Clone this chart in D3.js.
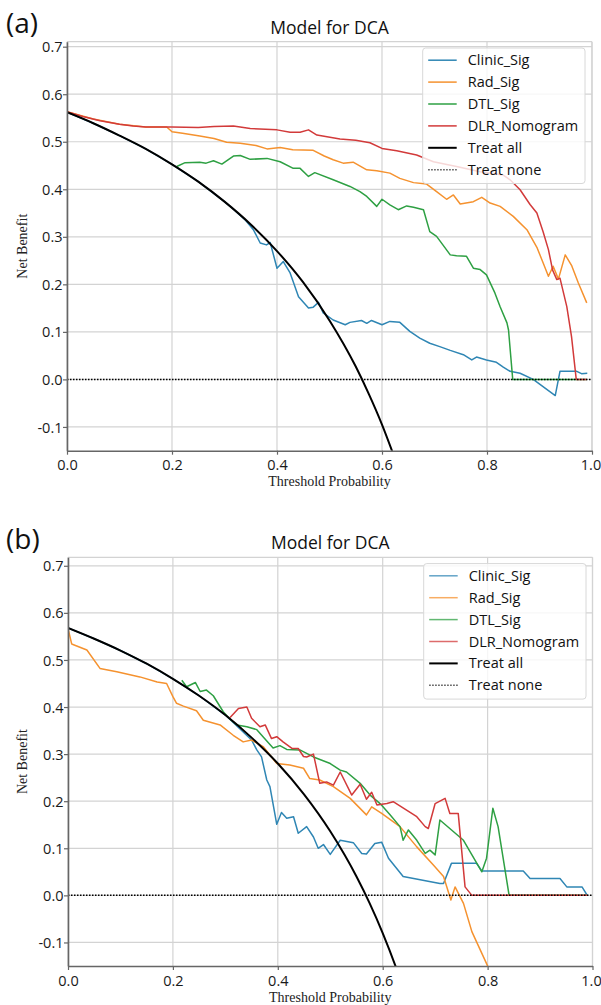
<!DOCTYPE html>
<html><head><meta charset="utf-8">
<script src="https://cdn.jsdelivr.net/npm/d3@7"></script>
<style>body{margin:0;background:#fff}svg{display:block}</style>
</head><body><svg id="c" width="601" height="1005"></svg>
<script>
// ---------- data ----------
const seriesNames = ["Clinic_Sig","Rad_Sig","DTL_Sig","DLR_Nomogram","Treat all","Treat none"];
const seriesColors = ["#2f86b4","#f5922f","#2ea043","#d23a3a","#000000","#000000"];
const xTicks = [0.0,0.2,0.4,0.6,0.8,1.0];
const yTicks = [-0.1,0.0,0.1,0.2,0.3,0.4,0.5,0.6,0.7];
const panelLabels = ["(a)","(b)"];
const titleText = "Model for DCA";
const xLabel = "Threshold Probability";
const yLabel = "Net Benefit";

// panel (a)
const aClinic = [[0,0.562],[0.05,0.539],[0.1,0.513],[0.15,0.485],[0.2,0.4525],[0.25,0.416],[0.3,0.374],[0.317,0.358],[0.34,0.335],[0.355,0.315],[0.368,0.287],[0.38,0.283],[0.387,0.288],[0.4,0.234],[0.412,0.248],[0.425,0.224],[0.441,0.174],[0.46,0.150],[0.469,0.152],[0.479,0.162],[0.488,0.140],[0.507,0.125],[0.53,0.115],[0.539,0.12],[0.561,0.124],[0.571,0.118],[0.58,0.124],[0.6,0.115],[0.615,0.122],[0.634,0.12],[0.653,0.101],[0.672,0.087],[0.691,0.076],[0.71,0.069],[0.73,0.061],[0.755,0.052],[0.771,0.041],[0.78,0.047],[0.799,0.041],[0.818,0.036],[0.831,0.026],[0.844,0.017],[0.863,0.013],[0.888,0.0],[0.93,-0.034],[0.939,0.017],[0.971,0.017],[0.98,0.012],[0.991,0.013]];
const aRad = [[0,0.563],[0.05,0.548],[0.1,0.537],[0.15,0.531],[0.19,0.531],[0.2,0.521],[0.22,0.518],[0.253,0.512],[0.28,0.507],[0.304,0.499],[0.33,0.497],[0.36,0.492],[0.381,0.485],[0.406,0.488],[0.43,0.483],[0.469,0.482],[0.49,0.47],[0.507,0.462],[0.526,0.455],[0.545,0.457],[0.571,0.441],[0.59,0.439],[0.615,0.434],[0.634,0.423],[0.66,0.414],[0.685,0.411],[0.704,0.395],[0.723,0.379],[0.736,0.388],[0.749,0.369],[0.774,0.374],[0.79,0.383],[0.806,0.371],[0.825,0.364],[0.85,0.343],[0.876,0.315],[0.895,0.278],[0.907,0.245],[0.917,0.217],[0.926,0.238],[0.936,0.211],[0.949,0.262],[0.961,0.24],[0.974,0.203],[0.99,0.161]];
const aDTL = [[0.209,0.448],[0.225,0.456],[0.253,0.457],[0.265,0.455],[0.279,0.46],[0.295,0.453],[0.317,0.470],[0.33,0.471],[0.349,0.463],[0.381,0.465],[0.406,0.458],[0.431,0.444],[0.444,0.444],[0.46,0.427],[0.472,0.435],[0.507,0.42],[0.539,0.406],[0.558,0.395],[0.571,0.385],[0.59,0.364],[0.6,0.379],[0.615,0.367],[0.631,0.357],[0.647,0.365],[0.66,0.362],[0.679,0.357],[0.691,0.311],[0.704,0.301],[0.73,0.262],[0.742,0.260],[0.761,0.259],[0.774,0.234],[0.787,0.231],[0.799,0.22],[0.815,0.182],[0.825,0.153],[0.838,0.119],[0.841,0.104],[0.849,0.0],[0.99,0.0]];
const aDLR = [[0,0.563],[0.03,0.553],[0.063,0.544],[0.1,0.537],[0.126,0.533],[0.15,0.531],[0.2,0.531],[0.25,0.530],[0.28,0.532],[0.317,0.533],[0.349,0.528],[0.4,0.525],[0.425,0.52],[0.444,0.52],[0.46,0.525],[0.476,0.514],[0.52,0.506],[0.55,0.503],[0.577,0.498],[0.6,0.486],[0.628,0.481],[0.666,0.472],[0.698,0.458],[0.742,0.448],[0.787,0.437],[0.831,0.430],[0.844,0.42],[0.863,0.399],[0.882,0.368],[0.895,0.35],[0.907,0.31],[0.917,0.273],[0.925,0.23],[0.933,0.21],[0.939,0.213],[0.952,0.153],[0.961,0.09],[0.97,0.0],[0.99,0.0]];
const aAll = [[0,0.562],[0.05,0.539],[0.1,0.513],[0.15,0.485],[0.2,0.4525],[0.25,0.416],[0.3,0.374],[0.35,0.326],[0.4,0.270],[0.45,0.204],[0.5,0.124],[0.55,0.027],[0.575,-0.031],[0.6,-0.095],[0.625,-0.168]];
const aNone = [[0,0],[1,0]];

// panel (b)
const bClinic = [[0,0.568],[0.05,0.545],[0.1,0.52],[0.15,0.492],[0.2,0.46],[0.25,0.424],[0.3,0.383],[0.35,0.33],[0.36,0.309],[0.369,0.294],[0.379,0.245],[0.385,0.231],[0.398,0.151],[0.407,0.176],[0.417,0.164],[0.43,0.167],[0.439,0.132],[0.455,0.146],[0.468,0.124],[0.477,0.10],[0.487,0.108],[0.5,0.087],[0.519,0.117],[0.544,0.112],[0.56,0.089],[0.569,0.088],[0.585,0.11],[0.598,0.113],[0.611,0.079],[0.639,0.04],[0.709,0.025],[0.716,0.025],[0.731,0.068],[0.779,0.068],[0.789,0.052],[0.868,0.052],[0.881,0.036],[0.938,0.036],[0.951,0.018],[0.98,0.018],[0.99,0.0]];
const bRad = [[0,0.567],[0.007,0.534],[0.036,0.521],[0.061,0.482],[0.093,0.475],[0.137,0.464],[0.17,0.453],[0.188,0.450],[0.2,0.422],[0.207,0.408],[0.22,0.402],[0.245,0.392],[0.258,0.372],[0.29,0.362],[0.315,0.34],[0.334,0.326],[0.35,0.33],[0.372,0.316],[0.398,0.28],[0.423,0.277],[0.449,0.27],[0.461,0.248],[0.48,0.245],[0.506,0.231],[0.538,0.206],[0.569,0.171],[0.579,0.188],[0.598,0.174],[0.633,0.146],[0.665,0.103],[0.697,0.064],[0.716,0.04],[0.73,-0.01],[0.738,0.018],[0.754,-0.017],[0.77,-0.077],[0.798,-0.145],[0.802,-0.155]];
const bDTL = [[0.217,0.457],[0.226,0.443],[0.243,0.452],[0.252,0.433],[0.264,0.436],[0.277,0.424],[0.296,0.39],[0.309,0.374],[0.322,0.362],[0.341,0.358],[0.36,0.352],[0.379,0.328],[0.391,0.313],[0.404,0.318],[0.417,0.31],[0.442,0.309],[0.468,0.294],[0.5,0.28],[0.519,0.266],[0.531,0.262],[0.557,0.238],[0.576,0.213],[0.595,0.195],[0.614,0.171],[0.633,0.146],[0.639,0.117],[0.649,0.139],[0.665,0.117],[0.681,0.089],[0.69,0.096],[0.70,0.086],[0.709,0.16],[0.754,0.117],[0.789,0.05],[0.798,0.079],[0.81,0.185],[0.82,0.146],[0.841,0.0],[0.99,0.0]];
const bDLR = [[0.309,0.378],[0.325,0.397],[0.341,0.40],[0.35,0.376],[0.366,0.358],[0.376,0.362],[0.388,0.333],[0.398,0.337],[0.41,0.326],[0.427,0.312],[0.439,0.312],[0.449,0.295],[0.455,0.294],[0.468,0.30],[0.48,0.238],[0.493,0.241],[0.506,0.234],[0.519,0.262],[0.541,0.213],[0.557,0.236],[0.569,0.204],[0.579,0.219],[0.589,0.192],[0.608,0.195],[0.62,0.199],[0.665,0.167],[0.681,0.146],[0.687,0.142],[0.70,0.195],[0.719,0.206],[0.728,0.174],[0.744,0.174],[0.757,0.018],[0.77,0.0],[0.99,0.0]];
const bAll = [[0,0.568],[0.05,0.545],[0.1,0.52],[0.15,0.492],[0.2,0.46],[0.25,0.424],[0.3,0.383],[0.35,0.335],[0.4,0.28],[0.45,0.2145],[0.5,0.136],[0.55,0.04],[0.575,-0.0165],[0.6,-0.08],[0.625,-0.152],[0.64,-0.2]];
const bNone = [[0,0],[1,0]];

// ---------- drawing ----------
const svg = d3.select("#c");
const SANS = "'Open Sans','Noto Sans',sans-serif";
const SERIF = "'Liberation Serif','Times New Roman',serif";

const panels = [
  {x0:67, x1:592, y0:41.7, y1:450.7, ymax:0.7105, series:[aClinic,aRad,aDTL,aDLR,aAll,aNone], label:panelLabels[0], legendAlpha:1},
  {x0:68, x1:592.5, y0:557.3, y1:966, ymax:0.718, series:[bClinic,bRad,bDTL,bDLR,bAll,bNone], label:panelLabels[1], legendAlpha:0.75}
];

panels.forEach((p, pi) => {
  const g = svg.append("g");
  const x = d3.scaleLinear().domain([0,1]).range([p.x0, p.x1]);
  const y = d3.scaleLinear().domain([-0.15, p.ymax]).range([p.y1, p.y0]);

  // grid
  g.append("g").selectAll("line").data(xTicks).join("line")
    .attr("x1", d=>x(d)).attr("x2", d=>x(d)).attr("y1", p.y0).attr("y2", p.y1)
    .attr("stroke","#d3d3d3").attr("stroke-width",1.2);
  g.append("g").selectAll("line").data(yTicks).join("line")
    .attr("y1", d=>y(d)).attr("y2", d=>y(d)).attr("x1", p.x0).attr("x2", p.x1)
    .attr("stroke","#d3d3d3").attr("stroke-width",1.2);
  // top/right frame
  g.append("line").attr("x1",p.x0).attr("x2",p.x1).attr("y1",p.y0).attr("y2",p.y0).attr("stroke","#d3d3d3").attr("stroke-width",1.2);
  g.append("line").attr("x1",p.x1).attr("x2",p.x1).attr("y1",p.y0).attr("y2",p.y1).attr("stroke","#d3d3d3").attr("stroke-width",1.2);

  // clip
  const cid = "clip"+pi;
  g.append("clipPath").attr("id",cid).append("rect")
    .attr("x",p.x0).attr("y",p.y0).attr("width",p.x1-p.x0).attr("height",p.y1-p.y0);

  const lineLin = d3.line().x(d=>x(d[0])).y(d=>y(d[1]));
  const lineSmooth = d3.line().x(d=>x(d[0])).y(d=>y(d[1])).curve(d3.curveMonotoneX);
  const lines = g.append("g").attr("clip-path",`url(#${cid})`);
  p.series.forEach((s, i) => {
    const path = lines.append("path").datum(s)
      .attr("fill","none").attr("stroke",seriesColors[i])
      .attr("stroke-linejoin","round");
    if (i === 4) path.attr("d", lineSmooth).attr("stroke-width",2);
    else if (i === 5) path.attr("d", lineLin).attr("stroke-width",1.5).attr("stroke-dasharray","1.5,1.5");
    else path.attr("d", lineLin).attr("stroke-width",1.5);
  });

  // axes
  const fmt = d => d.toFixed(1);
  const ax = g.append("g").attr("transform",`translate(0,${p.y1})`)
    .call(d3.axisBottom(x).tickValues(xTicks).tickFormat(fmt).tickSize(4).tickSizeOuter(0));
  const ay = g.append("g").attr("transform",`translate(${p.x0},0)`)
    .call(d3.axisLeft(y).tickValues(yTicks).tickFormat(fmt).tickSize(4).tickSizeOuter(0));
  [ax, ay].forEach(a => {
    a.select(".domain").attr("stroke","#666").attr("stroke-width",1.6);
    a.selectAll(".tick line").attr("stroke","#666").attr("stroke-width",1.2);
    a.selectAll(".tick text").attr("font-family",SANS).attr("font-size",14.5).attr("fill","#1a1a1a");
  });
  ax.selectAll(".tick text").attr("dy",null).attr("y",19.5)
    .attr("dx", d => d === 1 ? -1.5 : 0);
  ay.selectAll(".tick text").attr("x",-4.5).attr("dy","0.35em");

  // titles
  const cx = (p.x0+p.x1)/2;
  g.append("text").attr("x",cx).attr("y",p.y0-8).attr("text-anchor","middle")
    .attr("font-family",SANS).attr("font-size",17.5).attr("fill","#111").text(titleText);
  g.append("text").attr("x",cx).attr("y",p.y1+35.5).attr("text-anchor","middle")
    .attr("font-family",SERIF).attr("font-size",14).attr("fill","#222").text(xLabel);
  g.append("text").attr("transform",`translate(26.5,${(p.y0+p.y1)/2}) rotate(-90)`)
    .attr("text-anchor","middle").attr("font-family",SERIF).attr("font-size",14).attr("fill","#222").text(yLabel);
  g.append("text").attr("x",6).attr("y",p.y0-8.5)
    .attr("font-family",SANS).attr("font-size",28).attr("fill","#111").text(p.label);

  // legend
  const lx = p.x0 + 355.7, ly = p.y0 + 6.3, lw = 162.3, lh = 135.5;
  const lg = g.append("g");
  lg.append("rect").attr("x",lx).attr("y",ly).attr("width",lw).attr("height",lh)
    .attr("rx",3).attr("fill","#fff").attr("fill-opacity",0.8).attr("stroke","#d8d8d8").attr("stroke-width",1);
  seriesNames.forEach((n, i) => {
    const cy = ly + 12.2 + i*21.9;
    const l = lg.append("line").attr("x1",lx+5.5).attr("x2",lx+34).attr("y1",cy).attr("y2",cy)
      .attr("stroke",seriesColors[i]).attr("stroke-width", i===4?2:1.5)
      .attr("stroke-opacity", i<4 ? p.legendAlpha : 1);
    if (i===5) l.attr("stroke-dasharray","1.5,1.5").attr("stroke-opacity",0.7);
    lg.append("text").attr("x",lx+45).attr("y",cy+5).attr("font-family",SANS)
      .attr("font-size",14.5).attr("fill","#111").text(n);
  });
});
</script></body></html>
